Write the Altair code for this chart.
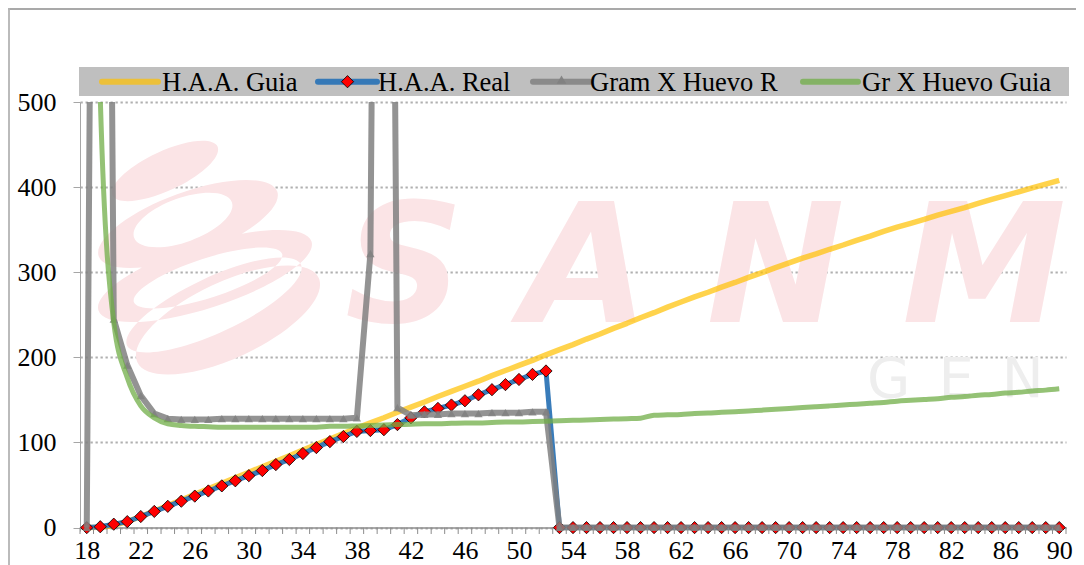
import math
import altair as alt
import pandas as pd

# ---------------- data ----------------
weeks = list(range(18, 91))

haa_guia = [0, 0.5, 2.5, 7, 13, 19.5, 26, 32.5, 39, 45.5, 52, 58.5, 65, 71.5, 78, 84.5,
            91, 97.5, 104, 110.5, 117, 123, 129, 135.5, 141.5, 147.5, 154, 160, 166, 172,
            178.5, 184.5, 190.5, 196.5, 203, 209, 215, 221.5, 227.5, 234, 240, 246.5, 252.5,
            259, 265, 271, 276.5, 282.5, 288, 294, 299.5, 305.5, 311, 316.5, 321.5, 327, 332,
            337.5, 342.5, 348, 353, 357.5, 362, 367, 371.5, 376, 381, 385.5, 390, 394.5, 399,
            403.5, 408]

haa_real = [0, 1, 4, 7, 13, 19, 25, 31, 37, 43, 49, 55, 61, 67, 74, 80, 87, 94, 101, 107,
            113, 114, 115, 121, 129, 136, 140, 144, 149, 156, 162, 168, 174, 180, 184] + [0] * 38

gram_huevo_r = [0, 2300, 245, 191, 155, 134, 128, 127, 127, 127, 128, 128, 128, 128, 128,
                128, 128, 128, 128, 128, 129, 322, 2300, 141, 132, 133, 133, 134, 134, 134,
                135, 135, 135, 136, 136] + [0] * 38

gr_huevo_guia = [3000, 505, 241, 176, 143, 129, 122, 120, 119, 118.5, 118, 118, 118, 118,
                 118, 118, 118, 118, 119, 119, 119.5, 120, 120.5, 121, 121.5, 122, 122, 122.5,
                 123, 123, 123.5, 124, 124, 124.5, 125, 125.5, 126, 126.5, 127, 127.5, 128,
                 128.5, 132, 132.5, 133, 134, 134.5, 135.5, 136, 137, 138, 139, 140, 141, 142,
                 143, 144, 145, 146, 147, 148.5, 149.5, 150.5, 151.5, 153, 154, 155.5, 156.5,
                 158, 159, 160.5, 161.5, 163]

series_names = ["H.A.A. Guia", "H.A.A. Real", "Gram X Huevo R", "Gr X Huevo Guia"]
y_ticks = [0, 100, 200, 300, 400, 500]
x_labels = list(range(18, 91, 4))
tick_bounds = [w - 0.5 for w in weeks] + [weeks[-1] + 0.5]

assert all(len(s) == len(weeks) for s in [haa_guia, haa_real, gram_huevo_r, gr_huevo_guia])

rows = []
for name, vals in zip(series_names, [haa_guia, haa_real, gram_huevo_r, gr_huevo_guia]):
    for w, v in zip(weeks, vals):
        rows.append({"week": w, "value": v, "series": name})
df = pd.DataFrame(rows)
ticks_df = pd.DataFrame({"b": tick_bounds})

# ---------------- styling ----------------
SERIF = "Liberation Serif"
SANS = "DejaVu Sans"
YELLOW, BLUE, GRAY, GREEN = "#ffc000", "#2e75b6", "#808080", "#70ad47"
PINK = "#fbe4e6"
W, H = 986, 429

xscale = alt.Scale(domain=[17.5, 90.5], nice=False, zero=False)
yscale = alt.Scale(domain=[-4, 500], nice=False, zero=False)

X = alt.X("week:Q", scale=xscale,
          axis=alt.Axis(values=x_labels, ticks=False, grid=False, domain=True,
                        domainColor="#8c8c8c", domainWidth=1.5, offset=-3.4,
                        labelFont=SERIF, labelFontSize=26, labelColor="#000000",
                        labelPadding=9.6, labelFlush=False, labelOverlap=False, title=None))
Y = alt.Y("value:Q", scale=yscale,
          axis=alt.Axis(values=y_ticks, tickSize=7, tickColor="#a6a6a6", domainColor="#a6a6a6",
                        grid=True, gridColor="#b0b0b0", gridDash=[2.3, 2.7], gridWidth=2,
                        labelFont=SERIF, labelFontSize=26, labelColor="#000000",
                        labelPadding=17, title=None))

base = alt.Chart(df)
one = pd.DataFrame({"n": [0]})


# ---------------- watermark (logo swirl + brand text) ----------------
def ellipse_path(cx, cy, a, b, ang, reverse=False, c0=208.0, c1=255.0, u=130.0):
    t = math.radians(ang)
    x1, y1 = (cx + a * math.cos(t) - c0) / u, (cy + a * math.sin(t) - c1) / u
    x2, y2 = (cx - a * math.cos(t) - c0) / u, (cy - a * math.sin(t) - c1) / u
    A, B = a / u, b / u
    sw = 0 if reverse else 1
    return (f"M{x1:.4f},{y1:.4f}A{A:.4f},{B:.4f},{ang},0,{sw},{x2:.4f},{y2:.4f}"
            f"A{A:.4f},{B:.4f},{ang},0,{sw},{x1:.4f},{y1:.4f}Z")


swirl = "".join([
    ellipse_path(165, 171, 58, 20, -25),
    ellipse_path(188, 224, 95, 32, -20), ellipse_path(183, 220, 52, 22, -20, True),
    ellipse_path(205, 276, 112, 32, -18), ellipse_path(208, 278, 78, 20, -18, True),
    ellipse_path(228, 320, 100, 38, -25), ellipse_path(214, 305, 96, 28, -25, True),
])
logo = alt.Chart(one).mark_point(shape=swirl, filled=True, fill=PINK, opacity=1,
                                 strokeWidth=0, size=260 ** 2).encode(
    x=alt.value(128), y=alt.value(153))

wm1 = alt.Chart(pd.DataFrame({"t": ["S A N M"]})).mark_text(
    align="left", baseline="alphabetic", font=SANS, fontSize=165,
    fontWeight="bold", fontStyle="italic", color=PINK).encode(
    x=alt.value(265), y=alt.value(220), text="t:N")
wm2 = alt.Chart(pd.DataFrame({"t": ["G\u2002E\u2002N"]})).mark_text(
    align="left", baseline="alphabetic", font=SANS, fontSize=56,
    color="#eeeeee").encode(
    x=alt.value(787), y=alt.value(295), text="t:N")


def sel(name):
    return base.transform_filter(alt.datum.series == name)


l_yellow = sel(series_names[0]).mark_line(color=YELLOW, opacity=0.7, strokeWidth=5.5,
                                          clip=True, strokeJoin="round").encode(x=X, y=Y)
l_blue = sel(series_names[1]).mark_line(color=BLUE, opacity=0.95, strokeWidth=5,
                                        clip=True, strokeJoin="round").encode(x=X, y=Y)
p_red = sel(series_names[1]).mark_point(shape="diamond", filled=True, fill="#ff0000",
                                        stroke="#000000", strokeWidth=0.8, size=150,
                                        opacity=1).encode(x=X, y=Y)
l_gray = sel(series_names[2]).mark_line(color=GRAY, opacity=0.85, strokeWidth=6,
                                        clip=True, strokeJoin="round").encode(x=X, y=Y)
p_gray = sel(series_names[2]).mark_point(shape="triangle-up", filled=True, fill=GRAY,
                                         opacity=0.85, size=70, clip=True).encode(x=X, y=Y)
l_green = sel(series_names[3]).mark_line(color=GREEN, opacity=0.75, strokeWidth=5,
                                         clip=True, interpolate="monotone",
                                         strokeJoin="round").encode(x=X, y=Y)

xticks = alt.Chart(ticks_df).mark_rule(color="#8c8c8c", strokeWidth=1).encode(
    x=alt.X("b:Q", scale=xscale), y=alt.value(425.6), y2=alt.value(432))

# ---------------- legend (drawn above the plot) ----------------
LY = -20.3
leg_bg = alt.Chart(one).mark_rect(color="#bfbfbf").encode(
    x=alt.value(-1), x2=alt.value(989), y=alt.value(-35), y2=alt.value(-6))
legend_layers = [leg_bg]
leg_specs = [
    (series_names[0], YELLOW, 0.7, 22, 78, None, 82),
    (series_names[1], BLUE, 0.95, 238, 297, "diamond", 298),
    (series_names[2], GRAY, 0.85, 453, 510, "triangle", 510),
    (series_names[3], GREEN, 0.75, 723, 778, None, 782),
]
for name, col, op, x0, x1, sym, tx in leg_specs:
    legend_layers.append(alt.Chart(one).mark_rule(color=col, opacity=op, strokeWidth=6,
                                                  strokeCap="round").encode(
        x=alt.value(x0), x2=alt.value(x1), y=alt.value(LY)))
    if sym == "diamond":
        legend_layers.append(alt.Chart(one).mark_point(
            shape="diamond", filled=True, fill="#ff0000", stroke="#000000", strokeWidth=0.8,
            size=150, opacity=1).encode(x=alt.value((x0 + x1) / 2), y=alt.value(LY)))
    if sym == "triangle":
        legend_layers.append(alt.Chart(one).mark_point(
            shape="triangle-up", filled=True, fill=GRAY, opacity=0.9, size=90).encode(
            x=alt.value((x0 + x1) / 2), y=alt.value(LY - 2)))
    legend_layers.append(alt.Chart(pd.DataFrame({"t": [name]})).mark_text(
        align="left", baseline="alphabetic", font=SERIF, fontSize=26.5, color="#000000").encode(
        x=alt.value(tx), y=alt.value(-11.3), text="t:N"))

border_top = alt.Chart(one).mark_rule(color="#8c8c8c", strokeWidth=1.5).encode(
    x=alt.value(-72), x2=alt.value(1010), y=alt.value(-93))
border_left = alt.Chart(one).mark_rule(color="#b4b4b4", strokeWidth=1.8).encode(
    x=alt.value(-71), y=alt.value(-94), y2=alt.value(480))

chart = alt.layer(
    logo, wm1, wm2, l_yellow, l_blue, p_red, l_gray, p_gray, l_green, xticks,
    *legend_layers, border_top, border_left
).properties(
    width=W, height=H,
    padding={"left": 72, "top": 94, "right": 10, "bottom": 34},
    autosize=alt.AutoSizeParams(type="none"),
).configure_view(stroke=None)

chart.save("out.html", embed_options={"renderer": "svg", "actions": False})
